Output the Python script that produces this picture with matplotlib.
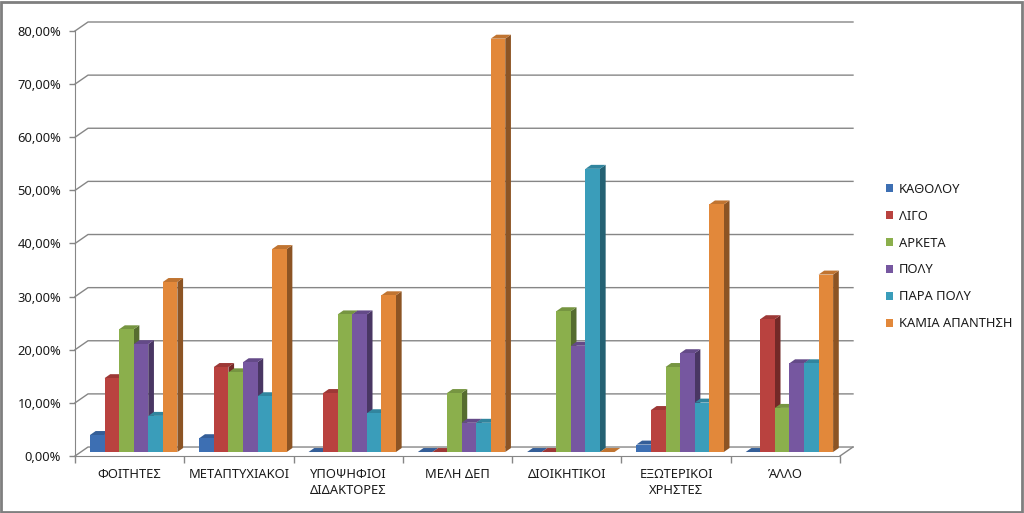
import numpy as np
import matplotlib.pyplot as plt
from matplotlib.patches import Polygon, Patch, Rectangle
from matplotlib.ticker import FuncFormatter

plt.rcParams['font.family'] = ['Noto Sans', 'DejaVu Sans']

categories = ['ΦΟΙΤΗΤΕΣ', 'ΜΕΤΑΠΤΥΧΙΑΚΟΙ', 'ΥΠΟΨΗΦΙΟΙ\nΔΙΔΑΚΤΟΡΕΣ', 'ΜΕΛΗ ΔΕΠ',
              'ΔΙΟΙΚΗΤΙΚΟΙ', 'ΕΞΩΤΕΡΙΚΟΙ\nΧΡΗΣΤΕΣ', 'ΆΛΛΟ']
series = ['ΚΑΘΟΛΟΥ', 'ΛΙΓΟ', 'ΑΡΚΕΤΑ', 'ΠΟΛΥ', 'ΠΑΡΑ ΠΟΛΥ', 'ΚΑΜΙΑ ΑΠΑΝΤΗΣΗ']
katholou = [3.2, 2.6, 0.0, 0.0, 0.0, 1.4, 0.0]
ligo = [13.9, 16.0, 11.1, 0.0, 0.0, 7.9, 25.0]
arketa = [23.1, 15.0, 25.9, 11.1, 26.5, 16.0, 8.3]
poly = [20.3, 16.9, 25.9, 5.5, 20.0, 18.6, 16.7]
para_poly = [6.8, 10.5, 7.3, 5.5, 53.3, 9.3, 16.7]
kamia = [32.0, 38.2, 29.5, 77.8, 0.0, 46.6, 33.4]
values = [katholou, ligo, arketa, poly, para_poly, kamia]
colors = ['#3D6FB3', '#B9423F', '#8BAF4C', '#7657A0', '#3A9DBA', '#E2883A']
yticks = list(range(0, 81, 10))

# pseudo-3d geometry (data units)
wall_dx, wall_dy = 0.119, 1.69
bar_bx, bar_by = 0.037, 0.75
bar_dx, bar_dy = 0.052, 0.75
width = 0.8 / len(series)

fig = plt.figure(figsize=(10.24, 5.13), dpi=100)
ax = fig.add_axes([75 / 1024, 57 / 513, 778 / 1024, 434 / 513])
n = len(categories)
ax.set_xlim(-0.5, n - 0.5 + wall_dx)
ax.set_ylim(0, 80 + wall_dy)
grid = '#868686'

# back wall gridlines with diagonals to the front axis
for t in yticks:
    ax.plot([-0.5, -0.5 + wall_dx, n - 0.5 + wall_dx], [t, t + wall_dy, t + wall_dy],
            color=grid, lw=1, zorder=1, clip_on=False)
ax.plot([n - 0.5, n - 0.5 + wall_dx], [0, wall_dy], color=grid, lw=1, zorder=1, clip_on=False)


def shade(c, f):
    rgb = np.array(plt.matplotlib.colors.to_rgb(c))
    return tuple(rgb * f)


x = np.arange(n)
for j in range(n):
    for i, (vals, c) in enumerate(zip(values, colors)):
        v = vals[j]
        left = j - 0.4 + bar_bx + i * width
        base = bar_by
        top = base + v
        side = [(left + width, base), (left + width, top),
                (left + width + bar_dx, top + bar_dy), (left + width + bar_dx, base + bar_dy)]
        lid = [(left, top), (left + width, top),
               (left + width + bar_dx, top + bar_dy), (left + bar_dx, top + bar_dy)]
        ax.add_patch(Polygon(side, closed=True, fc=shade(c, 0.62), ec='none', zorder=3))
        ax.add_patch(Polygon(lid, closed=True, fc=shade(c, 0.85), ec='none', zorder=3))
        ax.bar(left, v, width=width, bottom=base, align='edge', color=c, lw=0, zorder=3)

for s in ['top', 'right']:
    ax.spines[s].set_visible(False)
ax.spines['left'].set_bounds(0, 80)
ax.spines['bottom'].set_bounds(-0.5, n - 0.5)
for s in ['left', 'bottom']:
    ax.spines[s].set_color(grid)
    ax.spines[s].set_zorder(1)

ax.set_yticks(yticks)
ax.yaxis.set_major_formatter(FuncFormatter(lambda v, p: f'{v:.2f}%'.replace('.', ',')))
ax.tick_params(axis='y', length=4, width=1, color=grid, pad=6, labelsize=9.3, labelcolor='#1a1a1a')
ax.set_xticks(x)
ax.set_xticklabels(categories)
ax.set_xticks(np.arange(-0.5, n, 1.0), minor=True)
ax.tick_params(axis='x', which='major', length=0, pad=9, labelsize=9.3, labelcolor='#1a1a1a')
ax.tick_params(axis='x', which='minor', length=5, width=1, color=grid)
for lbl in ax.get_xticklabels():
    lbl.set_linespacing(1.3)

handles = [Patch(facecolor=c, edgecolor='none') for c in colors]
fig.legend(handles, series, loc='upper left', bbox_to_anchor=(874 / 1024, 1 - 171 / 513),
           frameon=False, fontsize=9.3, handlelength=0.6, handleheight=0.6,
           handletextpad=0.4, labelspacing=1.08, labelcolor='#1a1a1a')

fig.patches.append(Rectangle((0.001, 0.002), 0.997, 0.995, transform=fig.transFigure,
                             fill=False, ec='#7f7f7f', lw=2))
fig.savefig('out.png', dpi=100)
